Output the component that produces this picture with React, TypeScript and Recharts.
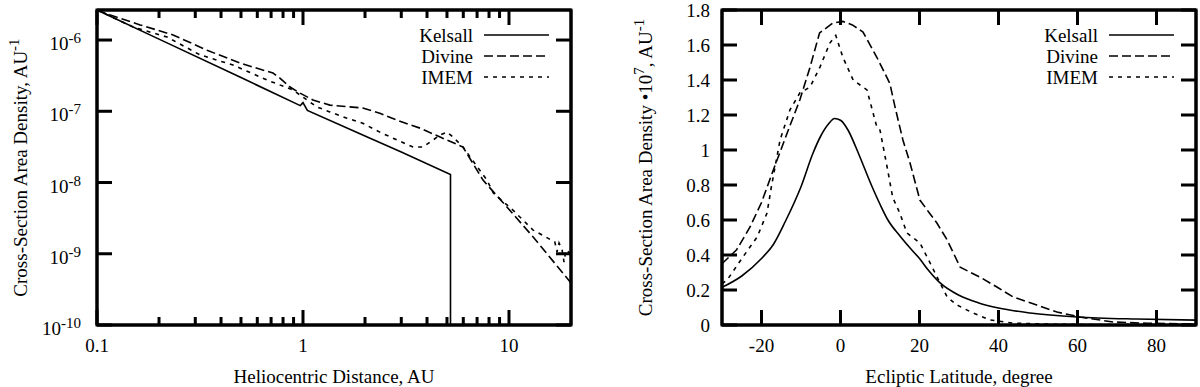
import React from 'react';
import { LineChart, Line, XAxis, YAxis, Legend, ReferenceArea } from 'recharts';

// ---- left panel: density vs heliocentric distance (AU) ----
const kelsallR = [0.1, 0.2, 0.5, 0.97, 1.0, 1.05, 2, 3, 5.2, 5.2];
const kelsallN = [2.64e-6, 1.03e-6, 2.97e-7, 1.2e-7, 1.32e-7, 1.03e-7, 4.5e-8, 2.68e-8, 1.3e-8, 1e-12];

const divineR = [0.1, 0.116, 0.162, 0.234, 0.342, 0.494, 0.715, 0.77, 0.865, 0.967, 1.118, 1.35, 1.95, 2.36, 2.86, 3.7, 4.63, 5.98, 7.48, 9.77, 13.1, 20];
const divineN = [2.64e-6, 2.25e-6, 1.63e-6, 1.18e-6, 7.2e-7, 4.75e-7, 3.44e-7, 2.95e-7, 2.19e-7, 1.8e-7, 1.44e-7, 1.22e-7, 1.11e-7, 9.4e-8, 7.5e-8, 5.8e-8, 4.35e-8, 3.15e-8, 1.08e-8, 4.53e-9, 1.72e-9, 3.9e-10];

const imemR = [0.1, 0.15, 0.219, 0.316, 0.457, 0.668, 0.894, 0.967, 1.17, 1.35, 1.635, 1.95, 2.36, 2.86, 3.42, 3.82, 4.28, 4.63, 5.0, 5.35, 5.98, 7.82, 8.4, 10.45, 13.1, 16.7, 17.1, 17.5, 18.1, 18.5, 18.9, 20];
const imemN = [2.64e-6, 1.52e-6, 1.1e-6, 6.2e-7, 4.46e-7, 2.75e-7, 1.99e-7, 1.69e-7, 1.15e-7, 9.8e-8, 8.0e-8, 6.8e-8, 5.1e-8, 3.95e-8, 3.15e-8, 3.15e-8, 3.95e-8, 4.65e-8, 5.1e-8, 4.35e-8, 3.15e-8, 1.08e-8, 7.1e-9, 4.1e-9, 2.15e-9, 1.46e-9, 1.06e-9, 1.41e-9, 1.13e-9, 7.66e-10, 1.13e-9, 1.0e-9];

const distTicks = [0.1, 0.2, 0.3, 0.4, 0.5, 0.6, 0.7, 0.8, 0.9, 1, 2, 3, 4, 5, 6, 7, 8, 9, 10];
const densTicks = [1e-10, 1e-9, 1e-8, 1e-7, 1e-6];

// ---- right panel: density (x 1e7) vs ecliptic latitude ----
const kelsallLat = [-30, -25, -20, -17, -14, -10, -7, -5, -3, -1.5, 0, 2, 4, 6, 8, 10, 12, 15, 18, 20, 22, 25, 30, 35, 40, 48, 60, 75, 90];
const kelsallVal = [0.215, 0.28, 0.38, 0.46, 0.59, 0.79, 0.98, 1.08, 1.15, 1.18, 1.17, 1.11, 1.01, 0.9, 0.79, 0.69, 0.6, 0.51, 0.43, 0.38, 0.32, 0.245, 0.17, 0.126, 0.097, 0.069, 0.046, 0.034, 0.028];

const divineLat = [-30, -26.3, -22.9, -20, -17.1, -13.5, -10.3, -7.7, -5.3, -1.9, 0.6, 3, 5.7, 9.2, 12.5, 13.8, 15.8, 17.6, 20.1, 22.5, 24.4, 27, 30.3, 35.3, 39.6, 43.7, 49.7, 54.8, 60.6, 69, 77.6, 90];
const divineVal = [0.35, 0.43, 0.56, 0.7, 0.88, 1.097, 1.286, 1.474, 1.669, 1.726, 1.735, 1.715, 1.674, 1.53, 1.38, 1.246, 1.057, 0.926, 0.714, 0.64, 0.583, 0.486, 0.33, 0.274, 0.217, 0.16, 0.114, 0.074, 0.046, 0.017, 0.01, 0.006];

const imemLat = [-30, -28.7, -24.7, -21.1, -18.6, -17.5, -15.3, -12.8, -10.3, -7.7, -5.2, -2.7, -1.2, 0.6, 3.2, 6.7, 9.2, 10, 11.8, 13.2, 15, 16.8, 20.1, 22.7, 25.2, 27, 29.5, 33.5, 37.8, 43.7, 52, 60, 90];
const imemVal = [0.235, 0.257, 0.389, 0.503, 0.64, 0.79, 1.057, 1.229, 1.326, 1.36, 1.474, 1.611, 1.655, 1.53, 1.4, 1.343, 1.131, 1.114, 0.903, 0.73, 0.64, 0.526, 0.469, 0.354, 0.24, 0.16, 0.114, 0.069, 0.029, 0.011, 0.005, 0.003, 0.002];

const latTicks = [-20, 0, 20, 40, 60, 80];
const valTicks = [0, 0.2, 0.4, 0.6, 0.8, 1, 1.2, 1.4, 1.6, 1.8];

const seriesOrder = ['Kelsall', 'Divine', 'IMEM'];

const zip = (xs: number[], ys: number[]) => xs.map((x, i) => ({ x, y: ys[i] }));

const FONT = "'Liberation Serif', 'Times New Roman', Times, serif";
const FS = 19;
const SUP = 15;
const MAJOR = 15;
const MINOR = 8;
const LW = 1.6;
const AXIS = { stroke: '#000', strokeWidth: 3 };
const DASH: Record<string, string | undefined> = { Kelsall: undefined, Divine: '9 4', IMEM: '4 5' };

const isDecade = (v: number) => Math.abs(Math.log10(v) - Math.round(Math.log10(v))) < 1e-6;

// gnuplot-style inward tick, drawn from the axis position recharts hands us
function Tick(props: any) {
  const { x, y, side, major, text } = props;
  const len = major ? MAJOR : MINOR;
  const w = 3;
  let r = { x: x - w / 2, y: y - len, width: w, height: len };
  if (side === 'top') r = { x: x - w / 2, y, width: w, height: len };
  if (side === 'left') r = { x, y: y - w / 2, width: len, height: w };
  if (side === 'right') r = { x: x - len, y: y - w / 2, width: len, height: w };
  return (
    <g>
      <rect {...r} fill="#000" />
      {text}
    </g>
  );
}

function logLabel(x: number, y: number, v: number) {
  const e = Math.round(Math.log10(v));
  return (
    <text x={x - 16} y={y + 10} textAnchor="end" fontFamily={FONT} fontSize={FS} fill="#000">
      10<tspan dy={-7} fontSize={SUP}>{e}</tspan>
    </text>
  );
}

function XTitle(props: any) {
  const vb = props.viewBox || { x: 0, y: 0, width: 0 };
  return (
    <text x={vb.x + vb.width / 2} y={vb.y + 58} textAnchor="middle" fontFamily={FONT} fontSize={FS} fill="#000">
      {props.text}
    </text>
  );
}

function YTitle(props: any) {
  const vb = props.viewBox || { x: 0, y: 0, height: 0 };
  const cx = vb.x + props.dx;
  const cy = vb.y + vb.height / 2;
  return (
    <text x={cx} y={cy} transform={`rotate(-90 ${cx} ${cy})`} textAnchor="middle" fontFamily={FONT} fontSize={FS} fill="#000">
      {props.parts.map((p: [string, boolean], i: number) => (
        <tspan key={i} dy={p[1] ? -8 : i > 0 ? 8 : 0} fontSize={p[1] ? SUP : FS}>{p[0]}</tspan>
      ))}
    </text>
  );
}

function LegendBox(props: any) {
  const items = [...(props.payload || [])].sort(
    (a: any, b: any) => seriesOrder.indexOf(a.value) - seriesOrder.indexOf(b.value)
  );
  return (
    <svg width={180} height={70} style={{ display: 'block', overflow: 'visible' }}>
      {items.map((e: any, i: number) => (
        <g key={i}>
          <text x={100} y={i * 21 + 16.5} textAnchor="end" fontFamily={FONT} fontSize={FS} fill="#000">{e.value}</text>
          <line x1={111} x2={176} y1={i * 21 + 10} y2={i * 21 + 10} stroke="#000" strokeWidth={LW} strokeDasharray={DASH[e.value]} />
        </g>
      ))}
    </svg>
  );
}

function DistanceChart() {
  return (
    <LineChart width={600} height={387} margin={{ top: 9, right: 28, bottom: 0, left: 0 }}>
      <XAxis xAxisId="b" type="number" dataKey="x" scale="log" domain={[0.1, 20]} allowDataOverflow ticks={distTicks} interval={0}
        tickSize={0} tickMargin={0} tickLine={false} axisLine={AXIS} height={62}
        tick={(p: any) => (
          <Tick {...p} side="bottom" major={isDecade(p.payload.value)}
            text={isDecade(p.payload.value) ? (
              <text x={p.x} y={p.y + 27} textAnchor="middle" fontFamily={FONT} fontSize={FS} fill="#000">{String(p.payload.value)}</text>
            ) : null} />
        )}
        label={<XTitle text="Heliocentric Distance, AU" />} />
      <XAxis xAxisId="t" orientation="top" type="number" dataKey="x" scale="log" domain={[0.1, 20]} allowDataOverflow ticks={distTicks} interval={0}
        tickSize={0} tickMargin={0} tickLine={false} axisLine={AXIS} height={1}
        tick={(p: any) => <Tick {...p} side="top" major={isDecade(p.payload.value)} />} />
      <YAxis yAxisId="l" type="number" scale="log" domain={[1e-10, 2.64e-6]} allowDataOverflow ticks={densTicks} interval={0}
        tickSize={0} tickMargin={0} tickLine={false} axisLine={AXIS} width={97}
        tick={(p: any) => <Tick {...p} side="left" major text={logLabel(p.x, p.y, p.payload.value)} />}
        label={<YTitle dx={27} parts={[['Cross-Section Area Density, AU', false], ['-1', true]]} />} />
      <YAxis yAxisId="r" orientation="right" type="number" scale="log" domain={[1e-10, 2.64e-6]} allowDataOverflow ticks={densTicks} interval={0}
        tickSize={0} tickMargin={0} tickLine={false} axisLine={AXIS} width={1}
        tick={(p: any) => <Tick {...p} side="right" major />} />
      <ReferenceArea xAxisId="b" yAxisId="l" x1={0.1} x2={20} y1={1e-10} y2={2.64e-6} fill="none" stroke="#000" strokeWidth={3} ifOverflow="visible" />
      <Legend layout="horizontal" verticalAlign="middle" align="center" content={<LegendBox />}
        wrapperStyle={{ left: 373, top: 25, width: 180, height: 70 }} />
      <Line name="Kelsall" xAxisId="b" yAxisId="l" data={zip(kelsallR, kelsallN)} dataKey="y" type="linear" stroke="#000" strokeWidth={LW} dot={false} activeDot={false} isAnimationActive={false} />
      <Line name="Divine" xAxisId="b" yAxisId="l" data={zip(divineR, divineN)} dataKey="y" type="linear" stroke="#000" strokeWidth={LW} strokeDasharray={DASH.Divine} dot={false} activeDot={false} isAnimationActive={false} />
      <Line name="IMEM" xAxisId="b" yAxisId="l" data={zip(imemR, imemN)} dataKey="y" type="linear" stroke="#000" strokeWidth={LW} strokeDasharray={DASH.IMEM} dot={false} activeDot={false} isAnimationActive={false} />
    </LineChart>
  );
}

function LatitudeChart() {
  return (
    <LineChart width={600} height={387} margin={{ top: 9, right: 3, bottom: 0, left: 0 }}>
      <XAxis xAxisId="b" type="number" dataKey="x" domain={[-30, 90]} allowDataOverflow ticks={latTicks} interval={0}
        tickSize={0} tickMargin={0} tickLine={false} axisLine={AXIS} height={62}
        tick={(p: any) => (
          <Tick {...p} side="bottom" major
            text={<text x={p.x} y={p.y + 27} textAnchor="middle" fontFamily={FONT} fontSize={FS} fill="#000">{String(p.payload.value)}</text>} />
        )}
        label={<XTitle text="Ecliptic Latitude, degree" />} />
      <XAxis xAxisId="t" orientation="top" type="number" dataKey="x" domain={[-30, 90]} allowDataOverflow ticks={latTicks} interval={0}
        tickSize={0} tickMargin={0} tickLine={false} axisLine={AXIS} height={1}
        tick={(p: any) => <Tick {...p} side="top" major />} />
      <YAxis yAxisId="l" type="number" domain={[0, 1.8]} allowDataOverflow ticks={valTicks} interval={0}
        tickSize={0} tickMargin={0} tickLine={false} axisLine={AXIS} width={122}
        tick={(p: any) => (
          <Tick {...p} side="left" major
            text={<text x={p.x - 12} y={p.y + 7} textAnchor="end" fontFamily={FONT} fontSize={FS} fill="#000">{String(p.payload.value)}</text>} />
        )}
        label={<YTitle dx={52} parts={[['Cross-Section Area Density \u202210', false], ['7', true], [', AU', false], ['-1', true]]} />} />
      <YAxis yAxisId="r" orientation="right" type="number" domain={[0, 1.8]} allowDataOverflow ticks={valTicks} interval={0}
        tickSize={0} tickMargin={0} tickLine={false} axisLine={AXIS} width={1}
        tick={(p: any) => <Tick {...p} side="right" major />} />
      <ReferenceArea xAxisId="b" yAxisId="l" x1={-30} x2={90} y1={0} y2={1.8} fill="none" stroke="#000" strokeWidth={3} ifOverflow="visible" />
      <Legend layout="horizontal" verticalAlign="middle" align="center" content={<LegendBox />}
        wrapperStyle={{ left: 398, top: 25, width: 180, height: 70 }} />
      <Line name="Kelsall" xAxisId="b" yAxisId="l" data={zip(kelsallLat, kelsallVal)} dataKey="y" type="monotone" stroke="#000" strokeWidth={LW} dot={false} activeDot={false} isAnimationActive={false} />
      <Line name="Divine" xAxisId="b" yAxisId="l" data={zip(divineLat, divineVal)} dataKey="y" type="linear" stroke="#000" strokeWidth={LW} strokeDasharray={DASH.Divine} dot={false} activeDot={false} isAnimationActive={false} />
      <Line name="IMEM" xAxisId="b" yAxisId="l" data={zip(imemLat, imemVal)} dataKey="y" type="linear" stroke="#000" strokeWidth={LW} strokeDasharray={DASH.IMEM} dot={false} activeDot={false} isAnimationActive={false} />
    </LineChart>
  );
}

export default function App() {
  return (
    <div style={{ position: 'absolute', left: 0, top: 0, width: 1200, height: 387, background: '#fff', display: 'flex' }}>
      <DistanceChart />
      <LatitudeChart />
    </div>
  );
}
